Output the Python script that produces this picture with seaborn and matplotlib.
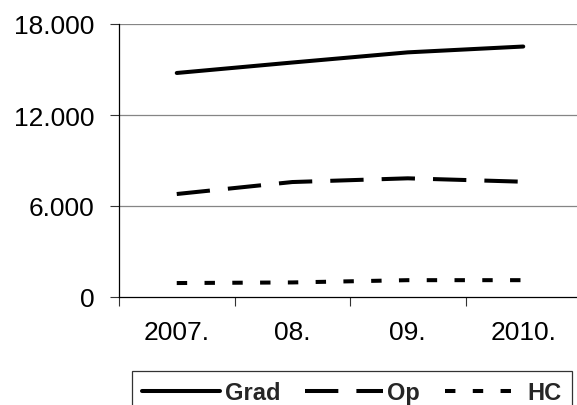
import matplotlib
matplotlib.use("Agg")
import matplotlib.pyplot as plt
import seaborn as sns
import pandas as pd
from matplotlib.lines import Line2D
from matplotlib.ticker import FuncFormatter, FixedLocator

years = ["2007.", "08.", "09.", "2010."]
grad = [14770, 15460, 16130, 16515]
op = [6790, 7580, 7825, 7600]
hc = [920, 960, 1110, 1110]
series_names = ["Grad", "Op", "HC"]
y_ticks = [0, 6000, 12000, 18000]

sns.set_theme(style="white")
plt.rcParams['font.family'] = ['Liberation Sans', 'DejaVu Sans']
plt.rcParams['lines.scale_dashes'] = False

df = pd.DataFrame({
    "year": years * 3,
    "value": grad + op + hc,
    "series": [series_names[0]] * 4 + [series_names[1]] * 4 + [series_names[2]] * 4,
})

dash_styles = {"Grad": "", "Op": (24, 13), "HC": (7.5, 12.5)}
lw = 2.9

fig = plt.figure(figsize=(5.77, 4.06), dpi=100)
ax = fig.add_axes([119 / 577, 108 / 406, 462 / 577, 273 / 406])

sns.lineplot(data=df, x="year", y="value", hue="series", style="series",
             palette=["black"] * 3, dashes=dash_styles, linewidth=lw,
             sort=False, ax=ax, legend=False)

ax.set_xlim(-0.5, 3.5)
ax.set_ylim(0, 18000)
ax.set_xlabel("")
ax.set_ylabel("")

ax.yaxis.set_major_locator(FixedLocator(y_ticks))
ax.yaxis.set_major_formatter(FuncFormatter(lambda v, p: f"{v:,.0f}".replace(",", ".")))
for yv in y_ticks[1:]:
    ax.axhline(yv, color="#858585", lw=0.9, zorder=0)

ax.xaxis.set_major_locator(FixedLocator([-0.5, 0.5, 1.5, 2.5, 3.5]))
ax.xaxis.set_major_formatter(FuncFormatter(lambda v, p: ""))
ax.xaxis.set_minor_locator(FixedLocator([0, 1, 2, 3]))
ax.set_xticklabels(years, minor=True)

ax.tick_params(axis="x", which="major", length=6.5, width=0.8, color="#333333", direction="out", bottom=True)
ax.tick_params(axis="x", which="minor", length=0, pad=16.5, labelsize=19, labelcolor="black", bottom=True)
ax.tick_params(axis="y", which="major", length=6.5, width=0.8, color="#333333", direction="out",
               pad=11, labelsize=19, labelcolor="black", left=True)

for s in ["top", "right"]:
    ax.spines[s].set_visible(False)
for s in ["left", "bottom"]:
    ax.spines[s].set_color("black")
    ax.spines[s].set_linewidth(0.9)

handles = [
    Line2D([], [], color="black", lw=lw),
    Line2D([], [], color="black", lw=lw, dashes=dash_styles["Op"]),
    Line2D([], [], color="black", lw=lw, dashes=dash_styles["HC"]),
]
leg = fig.legend(handles, series_names, loc="upper left",
                 bbox_to_anchor=(132 / 577, 1 - 372 / 406), ncol=3,
                 prop={"weight": "bold", "size": 17}, handlelength=3.3,
                 handletextpad=0.2, columnspacing=1.05, borderpad=0.42,
                 borderaxespad=0, frameon=True, fancybox=False)
leg.get_frame().set_edgecolor("black")
leg.get_frame().set_linewidth(0.9)

fig.savefig("out.png", dpi=100)
